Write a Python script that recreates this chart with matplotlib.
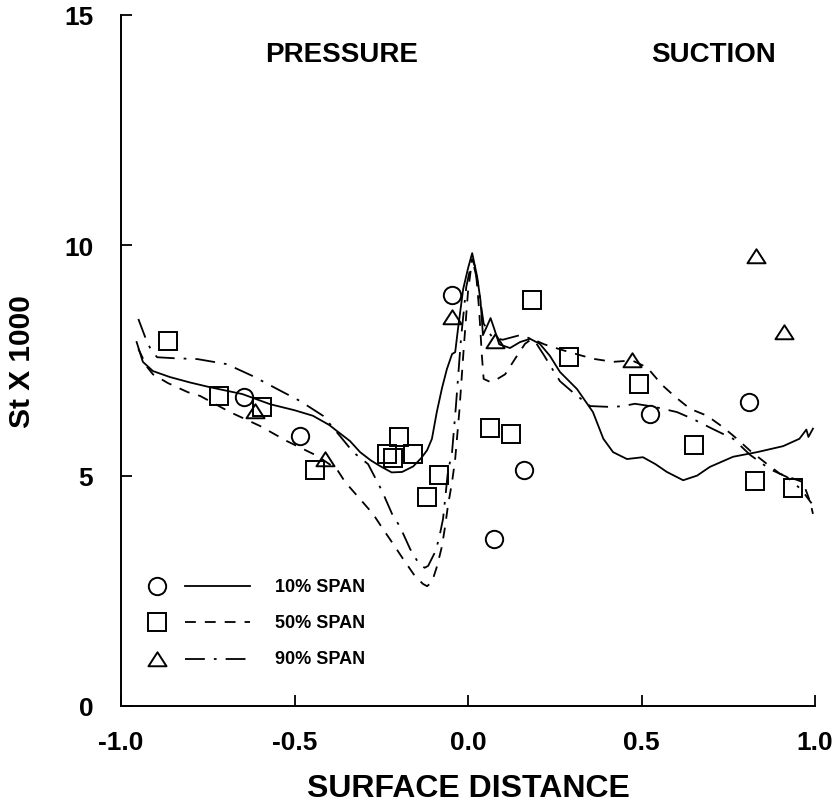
import matplotlib
matplotlib.use("Agg")
import matplotlib.pyplot as plt
from matplotlib.path import Path

plt.rcParams['font.family'] = ['Liberation Sans', 'DejaVu Sans']
plt.rcParams['font.weight'] = 'bold'

# ---- data ----
circ_x = [-0.645, -0.484, -0.046, 0.075, 0.161, 0.524, 0.81]
circ_y = [6.71, 5.86, 8.92, 3.62, 5.12, 6.34, 6.6]

sq_x = [-0.865, -0.718, -0.594, -0.44, -0.234, -0.216, -0.2, -0.158, -0.118, -0.083,
        0.063, 0.124, 0.185, 0.291, 0.493, 0.651, 0.827, 0.937]
sq_y = [7.92, 6.73, 6.49, 5.12, 5.47, 5.38, 5.84, 5.47, 4.54, 5.01,
        6.03, 5.9, 8.81, 7.58, 6.99, 5.67, 4.88, 4.73]

tri_x = [-0.614, -0.412, -0.046, 0.078, 0.472, 0.83, 0.911]
tri_y = [6.4, 5.36, 8.44, 7.92, 7.5, 9.77, 8.11]

s10_x = [-0.955, -0.937, -0.908, -0.859, -0.80, -0.744, -0.65, -0.57, -0.50, -0.447,
         -0.40, -0.378, -0.34, -0.311, -0.28, -0.254, -0.22, -0.19, -0.158, -0.135,
         -0.118, -0.104, -0.09, -0.075, -0.061, -0.046, -0.037, -0.029, -0.014, 0.0,
         0.012, 0.026, 0.036, 0.043, 0.055, 0.065, 0.075, 0.09, 0.121, 0.15,
         0.179, 0.207, 0.236, 0.265, 0.314, 0.36, 0.39, 0.418, 0.458, 0.504,
         0.54, 0.573, 0.62, 0.66, 0.697, 0.764, 0.833, 0.908, 0.955, 0.975, 0.981, 0.994]
s10_y = [7.9, 7.47, 7.27, 7.14, 7.02, 6.92, 6.77, 6.55, 6.42, 6.3,
         6.1, 5.97, 5.75, 5.51, 5.33, 5.21, 5.07, 5.08, 5.2, 5.38,
         5.55, 5.8, 6.38, 6.9, 7.31, 7.64, 7.68, 8.18, 9.05, 9.5,
         9.83, 9.33, 8.8, 8.05, 8.25, 8.42, 8.2, 7.85, 7.77, 7.9,
         7.97, 7.86, 7.6, 7.25, 6.88, 6.38, 5.8, 5.51, 5.36, 5.4,
         5.25, 5.08, 4.9, 5.0, 5.19, 5.41, 5.51, 5.64, 5.8, 6.0, 5.84, 6.02]

s50_x = [-0.95, -0.925, -0.908, -0.865, -0.807, -0.772, -0.686, -0.6, -0.522, -0.435,
         -0.378, -0.354, -0.311, -0.274, -0.245, -0.216, -0.187, -0.153, -0.13, -0.118,
         -0.104, -0.089, -0.075, -0.066, -0.058, -0.046, -0.037, -0.025, -0.012, 0.0,
         0.012, 0.022, 0.032, 0.04, 0.045, 0.065, 0.085, 0.107, 0.135, 0.164,
         0.184, 0.22, 0.27, 0.33, 0.366, 0.418, 0.473, 0.516, 0.559, 0.597,
         0.64, 0.689, 0.735, 0.775, 0.813, 0.862, 0.899, 0.965, 0.986, 0.994]
s50_y = [7.75, 7.36, 7.2, 7.01, 6.81, 6.73, 6.38, 6.08, 5.75, 5.43,
         5.14, 4.86, 4.49, 4.17, 3.84, 3.52, 3.19, 2.82, 2.65, 2.6,
         2.69, 3.04, 3.47, 3.9, 4.34, 4.86, 5.36, 6.4, 7.8, 9.0,
         9.7, 9.5, 8.6, 7.6, 7.1, 7.03, 7.1, 7.2, 7.53, 7.86,
         7.97, 7.85, 7.73, 7.6, 7.53, 7.47, 7.5, 7.35, 6.97, 6.71,
         6.45, 6.3, 6.05, 5.8, 5.54, 5.25, 5.04, 4.86, 4.43, 4.17]

s90_x = [-0.95, -0.93, -0.915, -0.896, -0.85, -0.78, -0.695, -0.62, -0.55, -0.484,
         -0.418, -0.369, -0.331, -0.288, -0.248, -0.219, -0.196, -0.167, -0.141, -0.125,
         -0.115, -0.095, -0.084, -0.072, -0.066, -0.058, -0.046, -0.035, -0.02, -0.005,
         0.012, 0.028, 0.045, 0.07, 0.1, 0.15, 0.19, 0.22, 0.24, 0.265,
         0.308, 0.352, 0.415, 0.447, 0.481, 0.533, 0.602, 0.648, 0.706, 0.764,
         0.813, 0.87, 0.919, 0.96, 0.99]
s90_y = [8.4, 8.0, 7.75, 7.57, 7.55, 7.53, 7.42, 7.16, 6.88, 6.62,
         6.3, 5.86, 5.51, 5.25, 4.67, 4.17, 3.89, 3.41, 3.08, 3.0,
         3.04, 3.34, 3.62, 4.06, 4.49, 5.08, 5.51, 6.5, 8.0, 9.1,
         9.7, 9.2, 8.3, 8.0, 7.95, 8.05, 7.95, 7.6, 7.35, 7.05,
         6.77, 6.51, 6.49, 6.51, 6.56, 6.5, 6.38, 6.23, 6.01, 5.8,
         5.45, 5.14, 4.97, 4.7, 4.4]

series_labels = ["10% SPAN", "50% SPAN", "90% SPAN"]
x_ticks = [-1.0, -0.5, 0.0, 0.5, 1.0]
x_ticklabels = ["-1.0", "-0.5", "0.0", "0.5", "1.0"]
y_ticks = [0, 5, 10, 15]
y_ticklabels = ["0", "5", "10", "15"]

# ---- figure ----
fig = plt.figure(figsize=(8.38, 8.03), dpi=100)
ax = fig.add_axes([0.1444, 0.1196, 0.8282, 0.8605])

lw = 1.3
dash50 = (0, (6, 5))
dash90 = (0, (11, 5, 1.5, 5))
tri_marker = Path([(-1, -0.75), (1, -0.75), (0, 0.8), (-1, -0.75)],
                  [Path.MOVETO, Path.LINETO, Path.LINETO, Path.CLOSEPOLY])
mkw = dict(linestyle='none', markerfacecolor='none', markeredgecolor='black',
           markeredgewidth=1.4, clip_on=False)

ax.plot(s10_x, s10_y, color='black', lw=lw, ls='-')
ax.plot(s50_x, s50_y, color='black', lw=lw, ls=dash50)
ax.plot(s90_x, s90_y, color='black', lw=lw, ls=dash90)

ax.plot(circ_x, circ_y, marker='o', markersize=12.5, **mkw)
ax.plot(sq_x, sq_y, marker='s', markersize=12.5, **mkw)
ax.plot(tri_x, tri_y, marker=tri_marker, markersize=13, **mkw)

# manual legend (marker, line sample, label)
leg_rows = [2.6, 1.82, 1.02]
styles = ['-', dash50, dash90]
markers = ['o', 's', tri_marker]
msizes = [12.5, 12.5, 13]
for yy, st, mk, ms, lab in zip(leg_rows, styles, markers, msizes, series_labels):
    ax.plot([-0.896], [yy], marker=mk, markersize=ms, **mkw)
    ax.plot([-0.815, -0.628], [yy, yy], color='black', lw=lw, ls=st)
    ax.text(-0.556, yy, lab, fontsize=13, fontweight='bold', va='center', ha='left')

ax.text(-0.363, 14.15, "PRESSURE", fontsize=20, fontweight='bold', ha='center', va='center')
ax.text(0.706, 14.15, "SUCTION", fontsize=20, fontweight='bold', ha='center', va='center')

ax.set_xlim(-1.0, 1.0)
ax.set_ylim(0, 15)
ax.set_xticks(x_ticks)
ax.set_xticklabels(x_ticklabels)
ax.set_yticks(y_ticks)
ax.set_yticklabels(y_ticklabels)
ax.tick_params(direction='in', length=8, width=1.3, labelsize=19)
ax.tick_params(axis='x', pad=17)
ax.tick_params(axis='y', pad=20)
for lbl in ax.get_xticklabels() + ax.get_yticklabels():
    lbl.set_fontweight('bold')
ax.spines['top'].set_visible(False)
ax.spines['right'].set_visible(False)
ax.spines['left'].set_linewidth(1.4)
ax.spines['bottom'].set_linewidth(1.4)

ax.set_xlabel("SURFACE DISTANCE", fontsize=23, fontweight='bold', labelpad=14)
ax.set_ylabel("St X 1000", fontsize=21.5, fontweight='bold', labelpad=20)

fig.savefig("out.png", dpi=100)
